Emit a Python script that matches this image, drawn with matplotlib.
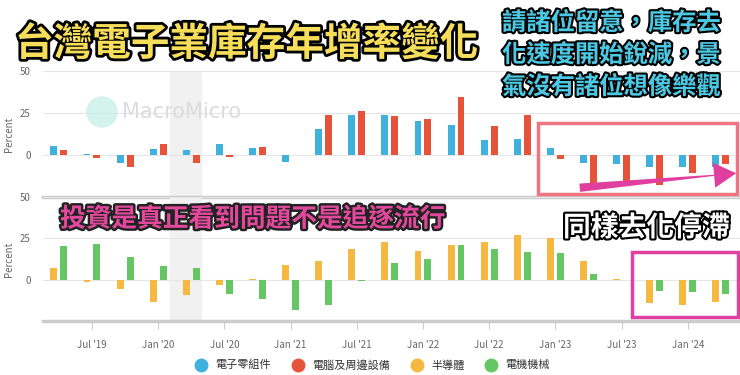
import matplotlib
matplotlib.use("Agg")
import matplotlib.pyplot as plt
import matplotlib.patheffects as pe
from matplotlib.patches import Rectangle, FancyArrowPatch, Ellipse

plt.rcParams['font.family'] = ['Noto Sans CJK TC', 'DejaVu Sans']

# quarterly points, Apr '19 .. Apr '24
quarters = list(range(21))
tick_pos = [1, 3, 5, 7, 9, 11, 13, 15, 17, 19]
tick_labels = ["Jul '19", "Jan '20", "Jul '20", "Jan '21", "Jul '21",
               "Jan '22", "Jul '22", "Jan '23", "Jul '23", "Jan '24"]

components = [5.4, 0.3, -4.6, 3.6, 2.8, 6.8, 4.0, -4.0, 15.4, 24.0,
              24.0, 20.4, 17.6, 9.2, 9.6, 4.4, -4.6, -5.4, -7.0, -7.4, -7.4]
computers = [2.8, -1.6, -7.4, 6.4, -5.0, -1.2, 5.0, 0.0, 23.6, 26.2,
             23.0, 21.2, 34.6, 17.0, 24.0, -2.6, -19.4, -17.4, -18.0, -11.0, -5.4]
semis = [7.0, -1.4, -5.4, -13.6, -9.0, -3.4, 0.4, 8.8, 11.2, 18.6,
         22.8, 17.2, 21.2, 22.8, 27.2, 25.0, 11.2, 0.4, -14.4, -15.2, -13.6]
machinery = [20.4, 21.8, 14.0, 8.4, 7.0, -8.4, -11.6, -18.2, -15.4, -1.0,
             9.8, 12.2, 20.8, 18.6, 16.8, 16.2, 3.6, 0.0, -6.8, -7.4, -8.8]

names = ['電子零組件', '電腦及周邊設備', '半導體', '電機機械']
colors = ['#3fb1dc', '#e5533b', '#f5b942', '#66c663']

W, H = 740, 375
fig = plt.figure(figsize=(7.4, 3.75), dpi=100)


def px_axes(x0, y0, x1, y1):
    return fig.add_axes([x0 / W, 1 - y1 / H, (x1 - x0) / W, (y1 - y0) / H])


ax1 = px_axes(43, 71, 740, 197)
ax2 = px_axes(43, 197, 740, 321)

off = 0.15
bw = 0.21
for ax, s1, s2, c1, c2 in [(ax1, components, computers, colors[0], colors[1]),
                           (ax2, semis, machinery, colors[2], colors[3])]:
    ax.axvspan(3.37, 4.3, color='#f1f1f1', zorder=0)
    ax.bar([q - off for q in quarters], s1, width=bw, color=c1, zorder=3)
    ax.bar([q + off for q in quarters], s2, width=bw, color=c2, zorder=3)
    ax.set_xlim(-0.48, 20.58)
    ax.set_ylim(-25, 50)
    ax.set_yticks([0, 25, 50])
    ax.set_yticklabels(['0', '25', '50'])
    ax.tick_params(axis='y', length=0, labelsize=7, labelcolor='#666666', pad=9)
    ax.grid(axis='y', color='#e6e6e6', linewidth=0.8, zorder=1)
    for sp in ['top', 'left', 'right']:
        ax.spines[sp].set_visible(False)
    ax.spines['bottom'].set_color('#cccccc')
    ax.spines['bottom'].set_linewidth(2.5)
    ax.set_ylabel('Percent', fontsize=7, color='#666666', labelpad=4)
    ax.patch.set_alpha(0)

ax1.set_xticks([])
ax2.set_xticks(tick_pos)
ax2.set_xticklabels(tick_labels)
ax2.tick_params(axis='x', length=6, color='#cccccc', labelsize=7,
                labelcolor='#666666', pad=8)

# watermark
fig.patches.append(Ellipse((102 / W, 1 - 112 / H), 30 / W, 30 / H,
                           transform=fig.transFigure, color='#c4efe6', alpha=0.7))
fig.text(122 / W, 1 - 112 / H, 'MacroMicro', fontsize=15, color='#dcdcdc',
         va='center', ha='left', family=['DejaVu Sans'])

# legend
handles = [plt.Line2D([], [], marker='o', linestyle='', markersize=9, color=c)
           for c in colors]
fig.legend(handles, names, loc='center', bbox_to_anchor=(0.5, 1 - 365 / H),
           ncol=4, frameon=False, fontsize=8, handletextpad=0.3,
           columnspacing=1.4, labelcolor='#333333')

# annotations
stroke = [pe.withStroke(linewidth=4, foreground='black')]
fig.text(15 / W, 1 - 44 / H, '台灣電子業庫存年增率變化', fontsize=27.8,
         fontweight='bold', color='#f6de5a', va='center', ha='left',
         path_effects=stroke)
for i, line in enumerate(['請諸位留意，庫存去', '化速度開始銳減，景', '氣沒有諸位想像樂觀']):
    fig.text(502 / W, 1 - (23 + 32 * i) / H, line, fontsize=17.5,
             fontweight='bold', color='#4cc8e2', va='center', ha='left',
             path_effects=[pe.withStroke(linewidth=3, foreground='black')])
fig.text(60 / W, 1 - 219 / H, '投資是真正看到問題不是追逐流行', fontsize=18.5,
         fontweight='bold', color='#e2489c', va='center', ha='left',
         path_effects=[pe.withStroke(linewidth=3.5, foreground='#222222')])
fig.text(563 / W, 1 - 228 / H, '同樣去化停滯', fontsize=20,
         fontweight='bold', color='white', va='center', ha='left',
         path_effects=[pe.withStroke(linewidth=3, foreground='black')])

fig.patches.append(Rectangle((538 / W, 1 - 194 / H), 199 / W, 71 / H,
                             transform=fig.transFigure, fill=False,
                             edgecolor='#f07482', linewidth=2.5))
fig.patches.append(Rectangle((632 / W, 1 - 317 / H), 106 / W, 65 / H,
                             transform=fig.transFigure, fill=False,
                             edgecolor='#e0409e', linewidth=2.5))
fig.patches.append(FancyArrowPatch((577 / W, 1 - 188 / H), (739 / W, 1 - 173 / H),
                                   transform=fig.transFigure,
                                   arrowstyle='wedge,tail_width=6,shrink_factor=0.5',
                                   color='#e03fa0', linewidth=0, mutation_scale=1))
fig.patches.append(FancyArrowPatch((700 / W, 1 - 176.5 / H), (739 / W, 1 - 173 / H),
                                   transform=fig.transFigure,
                                   arrowstyle='-|>,head_length=16,head_width=9',
                                   color='#e03fa0', linewidth=0, mutation_scale=1))

fig.savefig('out.png', dpi=100)
